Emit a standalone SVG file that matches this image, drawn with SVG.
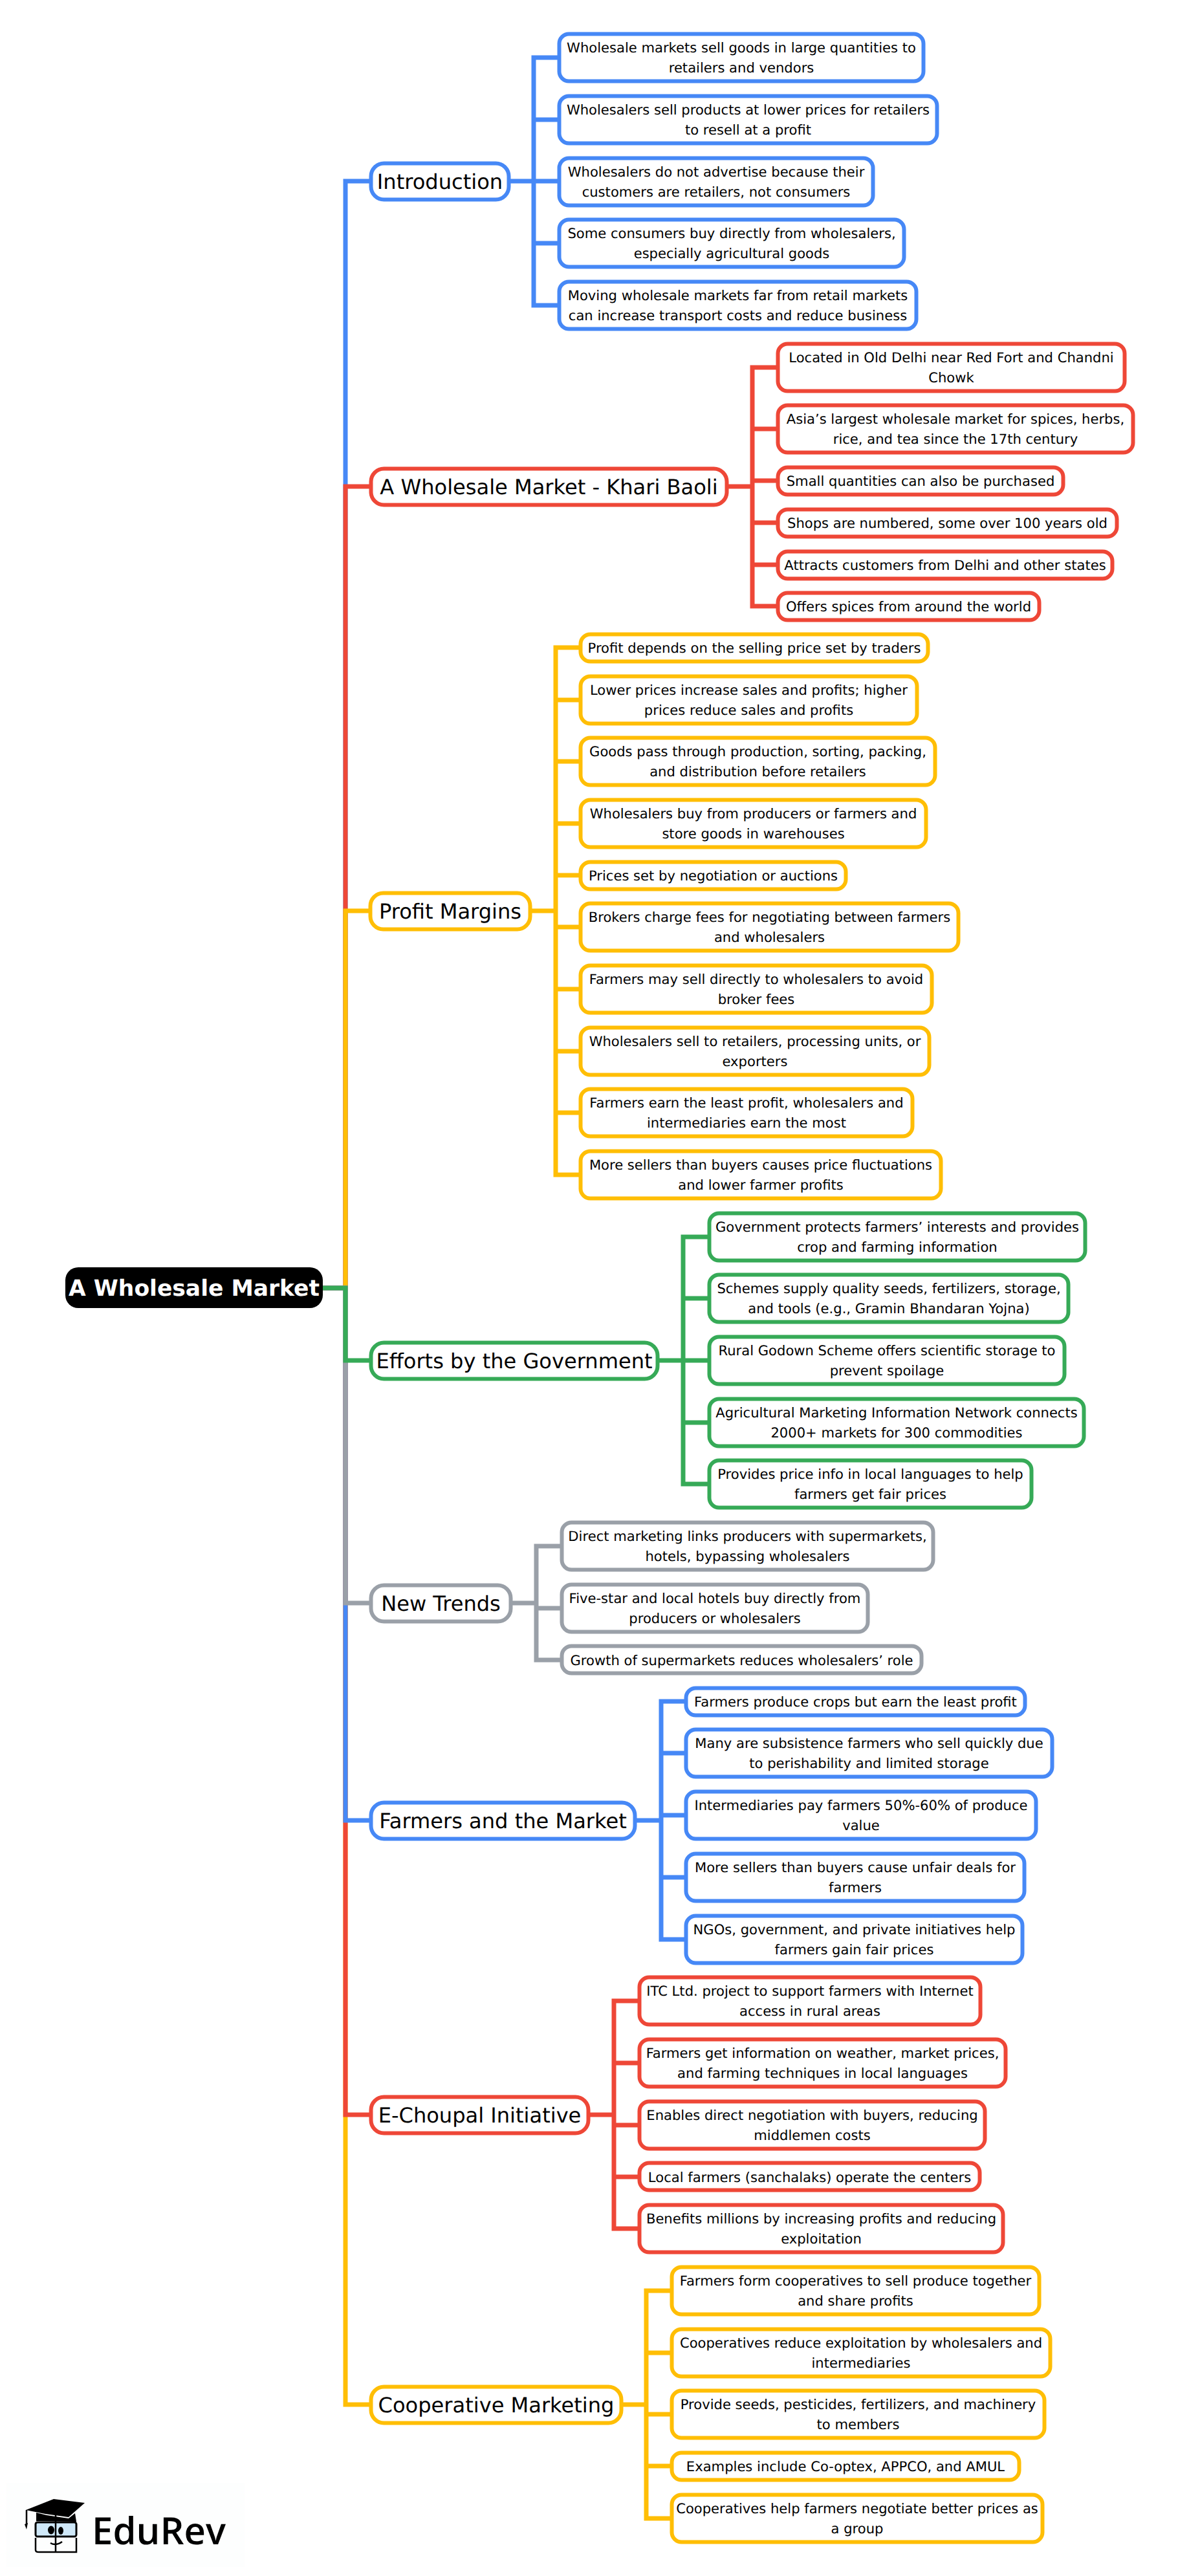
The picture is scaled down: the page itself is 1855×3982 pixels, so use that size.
<svg xmlns="http://www.w3.org/2000/svg" width="1855" height="3982" viewBox="0 0 1855 3982">
<style>
text{font-family:"DejaVu Sans",sans-serif;text-anchor:middle;fill:#000;text-rendering:geometricPrecision}
.l{font-size:21.1px}.b{font-size:32.1px}
.n{fill:#fff;stroke-width:6}
.lf{rx:15px;ry:15px}.br{rx:20px;ry:20px}
path{fill:none;stroke-width:7;stroke-linejoin:miter}
.B{stroke:#4688F6}.R{stroke:#EE4737}.Y{stroke:#FFBE05}.G{stroke:#36AA57}.A{stroke:#9AA0A8}
</style>
<rect x="10" y="3838" width="368" height="130" fill="#fdfefe"/>
<g id="connectors">
<path class="B" d="M499 1991H534V280H571"/>
<path class="R" d="M499 1991H534V752H571"/>
<path class="Y" d="M499 1991H534V1408H571"/>
<path class="Y" d="M499 1991H534V3717H571"/>
<path class="R" d="M499 1991H534V3269H571"/>
<path class="B" d="M499 1991H534V2814H571"/>
<path class="A" d="M499 1991H534V2478H571"/>
<path class="G" d="M499 1991H534V2103H571"/>
<path class="B" d="M789 280H825V89H862M789 280H825V185H862M789 280H862M789 280H825V376H862M789 280H825V472H862"/>
<path class="R" d="M1126 752H1163V568H1200M1126 752H1163V663H1200M1126 752H1163V743H1200M1126 752H1163V808H1200M1126 752H1163V873H1200M1126 752H1163V937H1200"/>
<path class="Y" d="M822 1408H859V1001H895M822 1408H859V1082H895M822 1408H859V1177H895M822 1408H859V1273H895M822 1408H859V1353H895M822 1408H859V1433H895M822 1408H859V1529H895M822 1408H859V1625H895M822 1408H859V1720H895M822 1408H859V1816H895"/>
<path class="G" d="M1019 2103H1056V1912H1094M1019 2103H1056V2007H1094M1019 2103H1094M1019 2103H1056V2199H1094M1019 2103H1056V2294H1094"/>
<path class="A" d="M792 2478H829V2390H866M792 2478H829V2486H866M792 2478H829V2566H866"/>
<path class="B" d="M984 2814H1022V2630H1058M984 2814H1022V2710H1058M984 2814H1022V2806H1058M984 2814H1022V2902H1058M984 2814H1022V2998H1058"/>
<path class="R" d="M912 3269H949V3093H986M912 3269H949V3189H986M912 3269H949V3285H986M912 3269H949V3365H986M912 3269H949V3445H986"/>
<path class="Y" d="M963 3717H999V3541H1036M963 3717H999V3637H1036M963 3717H999V3732H1036M963 3717H999V3812H1036M963 3717H999V3893H1036"/>
</g>
<g id="root"><rect x="101" y="1959" width="398" height="63" rx="20" ry="20" fill="#000"/><text x="300" y="2003" style="font-size:34.5px;font-weight:700;fill:#fff">A Wholesale Market</text></g>
<g id="b1"><rect class="n br B" x="573.5" y="252.5" width="213" height="56"/><text class="b" x="680" y="292">Introduction</text></g>
<g id="b1l1"><rect class="n lf B" x="864.5" y="52.5" width="563" height="73"/><text class="l" x="1146" y="81">Wholesale markets sell goods in large quantities to</text><text class="l" x="1146" y="112">retailers and vendors</text></g>
<g id="b1l2"><rect class="n lf B" x="864.5" y="148.5" width="584" height="73"/><text class="l" x="1156.5" y="177">Wholesalers sell products at lower prices for retailers</text><text class="l" x="1156.5" y="208">to resell at a profit</text></g>
<g id="b1l3"><rect class="n lf B" x="864.5" y="244.5" width="485" height="73"/><text class="l" x="1107" y="273">Wholesalers do not advertise because their</text><text class="l" x="1107" y="304">customers are retailers, not consumers</text></g>
<g id="b1l4"><rect class="n lf B" x="864.5" y="339.5" width="533" height="73"/><text class="l" x="1131" y="368">Some consumers buy directly from wholesalers,</text><text class="l" x="1131" y="399">especially agricultural goods</text></g>
<g id="b1l5"><rect class="n lf B" x="864.5" y="435.5" width="552" height="73"/><text class="l" x="1140.5" y="464">Moving wholesale markets far from retail markets</text><text class="l" x="1140.5" y="495">can increase transport costs and reduce business</text></g>
<g id="b2"><rect class="n br R" x="573.5" y="724.5" width="550" height="56"/><text class="b" x="848.5" y="764">A Wholesale Market - Khari Baoli</text></g>
<g id="b2l1"><rect class="n lf R" x="1202.5" y="531.5" width="536" height="73"/><text class="l" x="1470.5" y="560">Located in Old Delhi near Red Fort and Chandni</text><text class="l" x="1470.5" y="591">Chowk</text></g>
<g id="b2l2"><rect class="n lf R" x="1202.5" y="626.5" width="549" height="73"/><text class="l" x="1477" y="655">Asia’s largest wholesale market for spices, herbs,</text><text class="l" x="1477" y="686">rice, and tea since the 17th century</text></g>
<g id="b2l3"><rect class="n lf R" x="1202.5" y="722.5" width="441" height="42"/><text class="l" x="1423" y="751">Small quantities can also be purchased</text></g>
<g id="b2l4"><rect class="n lf R" x="1202.5" y="787.5" width="524" height="42"/><text class="l" x="1464.5" y="816">Shops are numbered, some over 100 years old</text></g>
<g id="b2l5"><rect class="n lf R" x="1202.5" y="852.5" width="517" height="42"/><text class="l" x="1461" y="881">Attracts customers from Delhi and other states</text></g>
<g id="b2l6"><rect class="n lf R" x="1202.5" y="916.5" width="404" height="42"/><text class="l" x="1404.5" y="945">Offers spices from around the world</text></g>
<g id="b3"><rect class="n br Y" x="572.5" y="1380.5" width="247" height="56"/><text class="b" x="696" y="1420">Profit Margins</text></g>
<g id="b3l1"><rect class="n lf Y" x="897.5" y="980.5" width="537" height="42"/><text class="l" x="1166" y="1009">Profit depends on the selling price set by traders</text></g>
<g id="b3l2"><rect class="n lf Y" x="897.5" y="1045.5" width="520" height="73"/><text class="l" x="1157.5" y="1074">Lower prices increase sales and profits; higher</text><text class="l" x="1157.5" y="1105">prices reduce sales and profits</text></g>
<g id="b3l3"><rect class="n lf Y" x="897.5" y="1140.5" width="548" height="73"/><text class="l" x="1171.5" y="1169">Goods pass through production, sorting, packing,</text><text class="l" x="1171.5" y="1200">and distribution before retailers</text></g>
<g id="b3l4"><rect class="n lf Y" x="897.5" y="1236.5" width="534" height="73"/><text class="l" x="1164.5" y="1265">Wholesalers buy from producers or farmers and</text><text class="l" x="1164.5" y="1296">store goods in warehouses</text></g>
<g id="b3l5"><rect class="n lf Y" x="897.5" y="1332.5" width="410" height="42"/><text class="l" x="1102.5" y="1361">Prices set by negotiation or auctions</text></g>
<g id="b3l6"><rect class="n lf Y" x="897.5" y="1396.5" width="584" height="73"/><text class="l" x="1189.5" y="1425">Brokers charge fees for negotiating between farmers</text><text class="l" x="1189.5" y="1456">and wholesalers</text></g>
<g id="b3l7"><rect class="n lf Y" x="897.5" y="1492.5" width="543" height="73"/><text class="l" x="1169" y="1521">Farmers may sell directly to wholesalers to avoid</text><text class="l" x="1169" y="1552">broker fees</text></g>
<g id="b3l8"><rect class="n lf Y" x="897.5" y="1588.5" width="539" height="73"/><text class="l" x="1167" y="1617">Wholesalers sell to retailers, processing units, or</text><text class="l" x="1167" y="1648">exporters</text></g>
<g id="b3l9"><rect class="n lf Y" x="897.5" y="1683.5" width="513" height="73"/><text class="l" x="1154" y="1712">Farmers earn the least profit, wholesalers and</text><text class="l" x="1154" y="1743">intermediaries earn the most</text></g>
<g id="b3l10"><rect class="n lf Y" x="897.5" y="1779.5" width="557" height="73"/><text class="l" x="1176" y="1808">More sellers than buyers causes price fluctuations</text><text class="l" x="1176" y="1839">and lower farmer profits</text></g>
<g id="b4"><rect class="n br G" x="573.5" y="2075.5" width="443" height="56"/><text class="b" x="795" y="2115">Efforts by the Government</text></g>
<g id="b4l1"><rect class="n lf G" x="1096.5" y="1875.5" width="581" height="73"/><text class="l" x="1387" y="1904">Government protects farmers’ interests and provides</text><text class="l" x="1387" y="1935">crop and farming information</text></g>
<g id="b4l2"><rect class="n lf G" x="1096.5" y="1970.5" width="555" height="73"/><text class="l" x="1374" y="1999">Schemes supply quality seeds, fertilizers, storage,</text><text class="l" x="1374" y="2030">and tools (e.g., Gramin Bhandaran Yojna)</text></g>
<g id="b4l3"><rect class="n lf G" x="1096.5" y="2066.5" width="549" height="73"/><text class="l" x="1371" y="2095">Rural Godown Scheme offers scientific storage to</text><text class="l" x="1371" y="2126">prevent spoilage</text></g>
<g id="b4l4"><rect class="n lf G" x="1096.5" y="2162.5" width="579" height="73"/><text class="l" x="1386" y="2191">Agricultural Marketing Information Network connects</text><text class="l" x="1386" y="2222">2000+ markets for 300 commodities</text></g>
<g id="b4l5"><rect class="n lf G" x="1096.5" y="2257.5" width="498" height="73"/><text class="l" x="1345.5" y="2286">Provides price info in local languages to help</text><text class="l" x="1345.5" y="2317">farmers get fair prices</text></g>
<g id="b5"><rect class="n br A" x="573.5" y="2450.5" width="216" height="56"/><text class="b" x="681.5" y="2490">New Trends</text></g>
<g id="b5l1"><rect class="n lf A" x="868.5" y="2353.5" width="574" height="73"/><text class="l" x="1155.5" y="2382">Direct marketing links producers with supermarkets,</text><text class="l" x="1155.5" y="2413">hotels, bypassing wholesalers</text></g>
<g id="b5l2"><rect class="n lf A" x="868.5" y="2449.5" width="473" height="73"/><text class="l" x="1105" y="2478">Five-star and local hotels buy directly from</text><text class="l" x="1105" y="2509">producers or wholesalers</text></g>
<g id="b5l3"><rect class="n lf A" x="868.5" y="2544.5" width="556" height="42"/><text class="l" x="1146.5" y="2574">Growth of supermarkets reduces wholesalers’ role</text></g>
<g id="b6"><rect class="n br B" x="573.5" y="2786.5" width="408" height="56"/><text class="b" x="777.5" y="2826">Farmers and the Market</text></g>
<g id="b6l1"><rect class="n lf B" x="1060.5" y="2609.5" width="524" height="42"/><text class="l" x="1322.5" y="2638">Farmers produce crops but earn the least profit</text></g>
<g id="b6l2"><rect class="n lf B" x="1060.5" y="2673.5" width="566" height="73"/><text class="l" x="1343.5" y="2702">Many are subsistence farmers who sell quickly due</text><text class="l" x="1343.5" y="2733">to perishability and limited storage</text></g>
<g id="b6l3"><rect class="n lf B" x="1060.5" y="2769.5" width="541" height="73"/><text class="l" x="1331" y="2798">Intermediaries pay farmers 50%-60% of produce</text><text class="l" x="1331" y="2829">value</text></g>
<g id="b6l4"><rect class="n lf B" x="1060.5" y="2865.5" width="523" height="73"/><text class="l" x="1322" y="2894">More sellers than buyers cause unfair deals for</text><text class="l" x="1322" y="2925">farmers</text></g>
<g id="b6l5"><rect class="n lf B" x="1060.5" y="2961.5" width="520" height="73"/><text class="l" x="1320.5" y="2990">NGOs, government, and private initiatives help</text><text class="l" x="1320.5" y="3021">farmers gain fair prices</text></g>
<g id="b7"><rect class="n br R" x="573.5" y="3241.5" width="336" height="56"/><text class="b" x="741.5" y="3281">E-Choupal Initiative</text></g>
<g id="b7l1"><rect class="n lf R" x="988.5" y="3056.5" width="527" height="73"/><text class="l" x="1252" y="3085">ITC Ltd. project to support farmers with Internet</text><text class="l" x="1252" y="3116">access in rural areas</text></g>
<g id="b7l2"><rect class="n lf R" x="988.5" y="3152.5" width="566" height="73"/><text class="l" x="1271.5" y="3181">Farmers get information on weather, market prices,</text><text class="l" x="1271.5" y="3212">and farming techniques in local languages</text></g>
<g id="b7l3"><rect class="n lf R" x="988.5" y="3248.5" width="534" height="73"/><text class="l" x="1255.5" y="3277">Enables direct negotiation with buyers, reducing</text><text class="l" x="1255.5" y="3308">middlemen costs</text></g>
<g id="b7l4"><rect class="n lf R" x="988.5" y="3343.5" width="526" height="42"/><text class="l" x="1251.5" y="3373">Local farmers (sanchalaks) operate the centers</text></g>
<g id="b7l5"><rect class="n lf R" x="988.5" y="3408.5" width="562" height="73"/><text class="l" x="1269.5" y="3437">Benefits millions by increasing profits and reducing</text><text class="l" x="1269.5" y="3468">exploitation</text></g>
<g id="b8"><rect class="n br Y" x="573.5" y="3689.5" width="387" height="56"/><text class="b" x="767" y="3729">Cooperative Marketing</text></g>
<g id="b8l1"><rect class="n lf Y" x="1038.5" y="3504.5" width="568" height="73"/><text class="l" x="1322.5" y="3533">Farmers form cooperatives to sell produce together</text><text class="l" x="1322.5" y="3564">and share profits</text></g>
<g id="b8l2"><rect class="n lf Y" x="1038.5" y="3600.5" width="585" height="73"/><text class="l" x="1331" y="3629">Cooperatives reduce exploitation by wholesalers and</text><text class="l" x="1331" y="3660">intermediaries</text></g>
<g id="b8l3"><rect class="n lf Y" x="1038.5" y="3695.5" width="576" height="73"/><text class="l" x="1326.5" y="3724">Provide seeds, pesticides, fertilizers, and machinery</text><text class="l" x="1326.5" y="3755">to members</text></g>
<g id="b8l4"><rect class="n lf Y" x="1038.5" y="3791.5" width="537" height="42"/><text class="l" x="1307" y="3820">Examples include Co-optex, APPCO, and AMUL</text></g>
<g id="b8l5"><rect class="n lf Y" x="1038.5" y="3856.5" width="573" height="73"/><text class="l" x="1325" y="3885">Cooperatives help farmers negotiate better prices as</text><text class="l" x="1325" y="3916">a group</text></g>
<g id="logo">
<polygon points="40,3880 83,3863 131,3869 106,3891 70,3886" fill="#000"/>
<polygon points="56,3884 72,3888 106,3893 116,3885 118,3898 56,3897" fill="#000"/>
<rect x="55" y="3899" width="63" height="22" rx="3" fill="#cfe8f8" stroke="#000" stroke-width="3"/>
<path d="M55 3923V3942Q55 3945 60 3945H118V3923M86 3888V3945M41 3880V3902" style="stroke:#000;stroke-width:2.5"/>
<polygon points="38,3902 43,3900 41,3910" fill="#000"/>
<ellipse cx="79" cy="3911" rx="5" ry="6.5" fill="#000"/><ellipse cx="94" cy="3912" rx="4" ry="6" fill="#000"/>
<path d="M78 3931Q86 3936 96 3929" style="stroke:#000;stroke-width:2.5"/>
<text x="245.5" y="3933" style="font-family:'Open Sans',sans-serif;font-weight:600;font-size:58px">EduRev</text>
</g>
</svg>
